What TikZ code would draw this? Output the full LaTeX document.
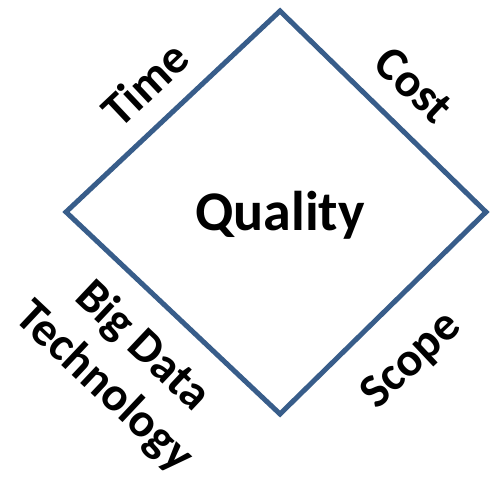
\documentclass[tikz,border=0pt]{standalone}
\usepackage{fontspec}
\setmainfont{Carlito}
\definecolor{edgeblue}{RGB}{56,93,138}
\begin{document}
\begin{tikzpicture}[x=1pt,y=-1pt,
  edge/.style={draw=edgeblue,line width=5pt,line join=miter},
  lbl/.style={font=\bfseries\fontsize{48}{56}\selectfont,inner sep=0pt,align=center},
  big/.style={font=\bfseries\fontsize{56}{64}\selectfont,inner sep=0pt}]
\useasboundingbox (0,0) rectangle (490,479);
\coordinate (T) at (280,11);
\coordinate (L) at (66,212);
\coordinate (B) at (280,414);
\coordinate (R) at (486,212);
\draw[edge] (T) -- (L) -- (B) -- (R) -- cycle;
\node[big] (q) at (280,215) {Quality};
\node[lbl,rotate=43.3] (time) at (145,84) {Time};
\node[lbl,rotate=-43.3] (cost) at (414,85) {Cost};
\node[lbl,rotate=43.3] (scope) at (412,361) {Scope};
\node[lbl,rotate=-43.3] (bdt) at (123,367) {Big Data\\Technology};
\end{tikzpicture}
\end{document}
